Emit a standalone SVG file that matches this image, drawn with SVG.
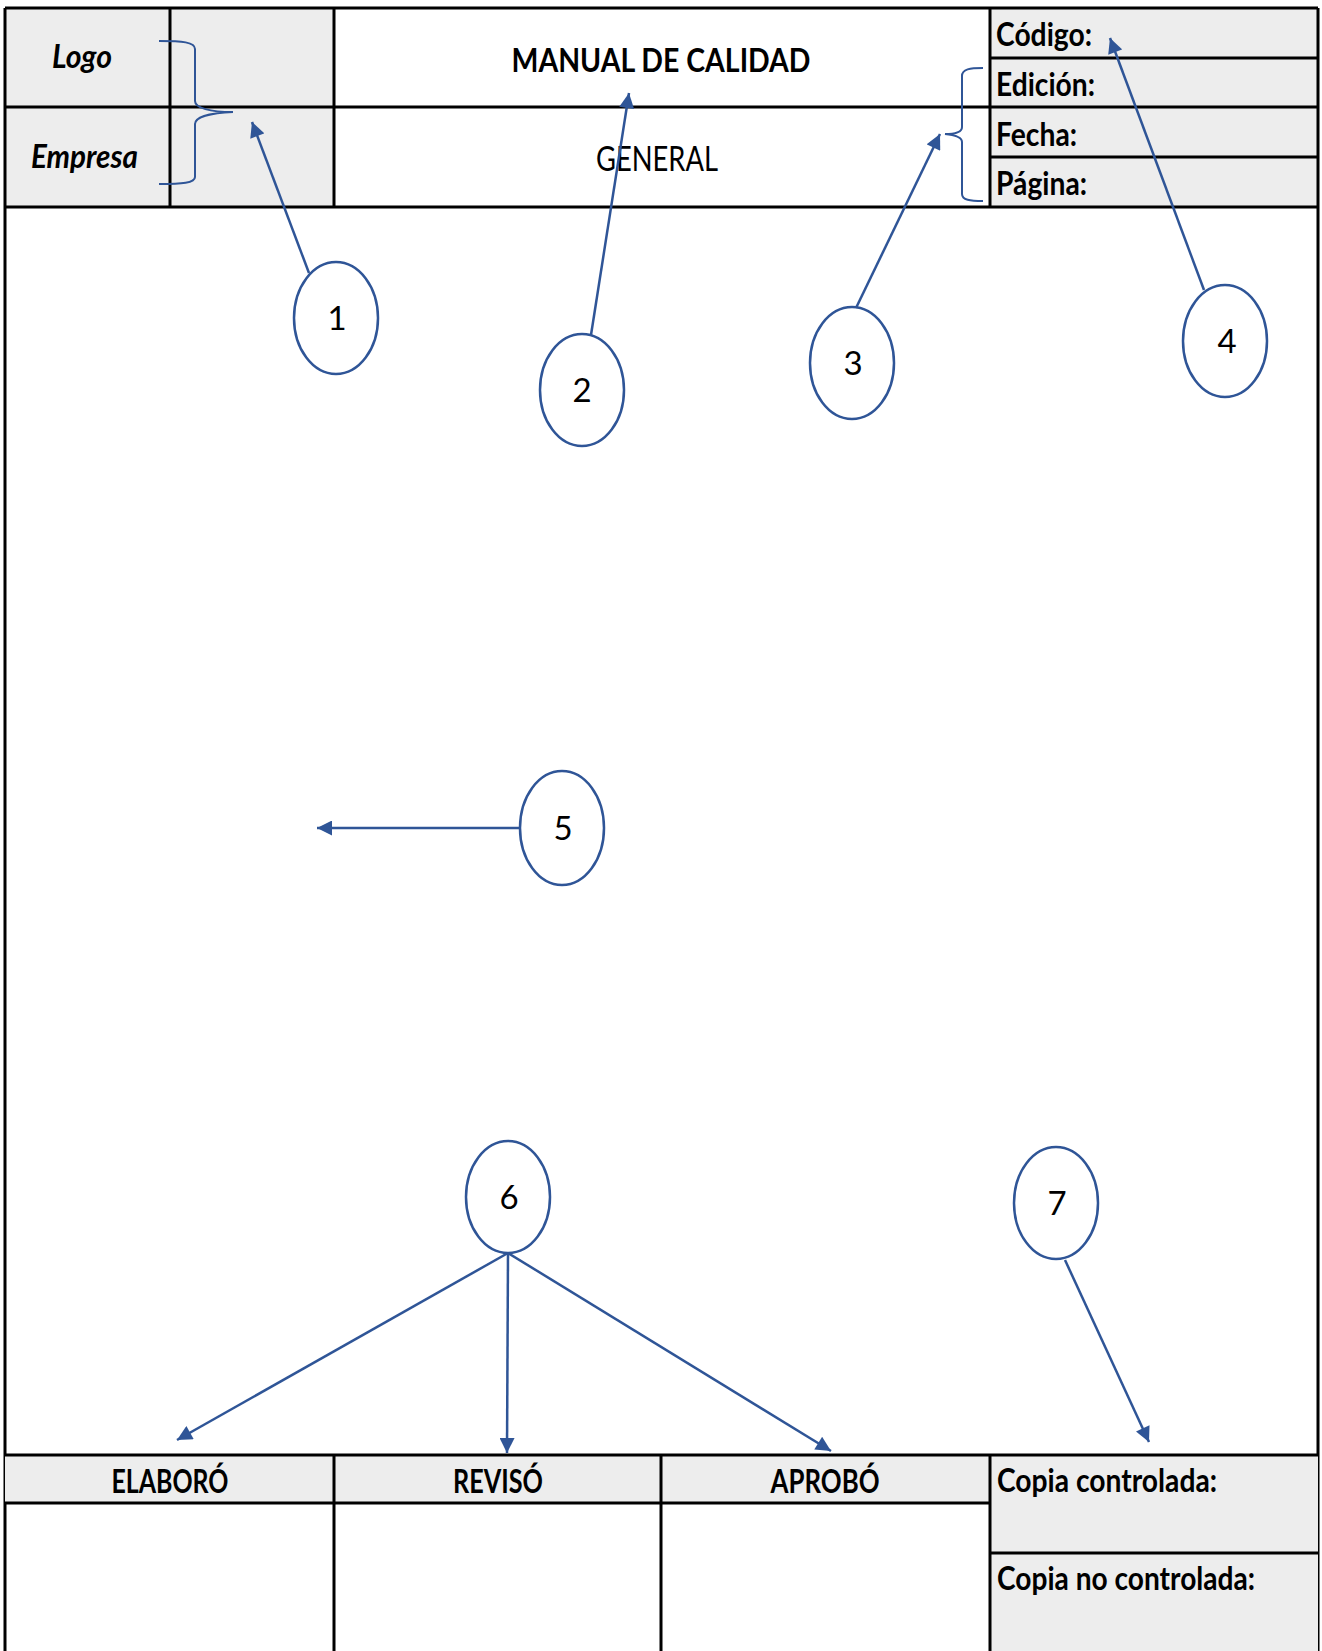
<svg xmlns="http://www.w3.org/2000/svg" width="1322" height="1651" viewBox="0 0 1322 1651">
<style>
.bg{fill:#EDEDED}
.ln{stroke:#000;stroke-width:3;fill:none}
.lb{font-family:Lato,"Open Sans","Liberation Sans",sans-serif;font-weight:bold;font-size:33px;fill:#000}
.it{font-style:italic}
.rg{font-family:Lato,"Open Sans","Liberation Sans",sans-serif;font-size:34px;fill:#000}
.num{font-family:Lato,"Open Sans","Liberation Sans",sans-serif;font-size:33px;fill:#000;text-anchor:middle}
.circ{fill:none;stroke:#2F5597;stroke-width:2.5}
.con{stroke:#2F5597;stroke-width:2.5;fill:none}
.brace{stroke:#2F5597;stroke-width:2;fill:none}
</style>
<defs>
<marker id="ah" viewBox="0 0 10 10" refX="10" refY="5" markerUnits="userSpaceOnUse" markerWidth="17" markerHeight="15" orient="auto">
<path d="M0,0 L10,5 L0,10 Z" fill="#2F5597"/>
</marker>
</defs>
<rect width="1322" height="1651" fill="#fff"/>
<g id="header">
<rect class="bg" x="5" y="8" width="329" height="199"/>
<rect class="bg" x="990" y="8" width="328" height="199"/>
<path class="ln" d="M5,8 H1318 M5,107 H1318 M5,207 H1318 M990,58 H1318 M990,157 H1318 M170,8 V207 M334,8 V207 M990,8 V207"/>
<text class="lb it" x="52" y="68" textLength="60" lengthAdjust="spacingAndGlyphs">Logo</text>
<text class="lb it" x="31" y="168" textLength="107" lengthAdjust="spacingAndGlyphs">Empresa</text>
<text class="lb" x="661" y="72" font-size="36" text-anchor="middle" textLength="299" lengthAdjust="spacingAndGlyphs">MANUAL DE CALIDAD</text>
<text class="rg" x="657" y="171" text-anchor="middle" textLength="122" lengthAdjust="spacingAndGlyphs">GENERAL</text>
<text class="lb" x="996" y="46" textLength="96" lengthAdjust="spacingAndGlyphs">Código:</text>
<text class="lb" x="996" y="96" textLength="99" lengthAdjust="spacingAndGlyphs">Edición:</text>
<text class="lb" x="996" y="146" textLength="81" lengthAdjust="spacingAndGlyphs">Fecha:</text>
<text class="lb" x="996" y="195" textLength="91" lengthAdjust="spacingAndGlyphs">Página:</text>
</g>
<g id="frame">
<path class="ln" d="M5,8 V1651 M1318,8 V1651"/>
</g>
<g id="footer">
<rect class="bg" x="5" y="1455" width="985" height="48"/>
<rect class="bg" x="990" y="1455" width="328" height="196"/>
<path class="ln" d="M5,1455 H1318 M5,1503 H990 M990,1553 H1318 M334,1455 V1651 M661,1455 V1651 M990,1455 V1651"/>
<text class="lb" x="170" y="1493" text-anchor="middle" textLength="117" lengthAdjust="spacingAndGlyphs">ELABORÓ</text>
<text class="lb" x="498" y="1493" text-anchor="middle" textLength="90" lengthAdjust="spacingAndGlyphs">REVISÓ</text>
<text class="lb" x="825" y="1493" text-anchor="middle" textLength="109" lengthAdjust="spacingAndGlyphs">APROBÓ</text>
<text class="lb" x="997" y="1492" textLength="220" lengthAdjust="spacingAndGlyphs">Copia controlada:</text>
<text class="lb" x="997" y="1590" textLength="258" lengthAdjust="spacingAndGlyphs">Copia no controlada:</text>
</g>
<g id="brace1">
<path class="brace" d="M159,41 C182,41 195,42 195,49 L195,101 C195,108 210,112 233,112 C210,113 195,117 195,124 L195,177 C195,183 182,184 159,184"/>
</g>
<g id="brace3">
<path class="brace" d="M983,68 C970,68 962,69 962,76 L962,127 C962,132 955,134 945,134 C955,135 962,137 962,142 L962,194 C962,200 970,201 983,201"/>
</g>
<g id="n1"><ellipse class="circ" cx="336" cy="318" rx="42" ry="56"/><text class="num" x="337" y="330">1</text></g>
<g id="n2"><ellipse class="circ" cx="582" cy="390" rx="42" ry="56"/><text class="num" x="582" y="402">2</text></g>
<g id="n3"><ellipse class="circ" cx="852" cy="363" rx="42" ry="56"/><text class="num" x="853" y="375">3</text></g>
<g id="n4"><ellipse class="circ" cx="1225" cy="341" rx="42" ry="56"/><text class="num" x="1227" y="353">4</text></g>
<g id="n5"><ellipse class="circ" cx="562" cy="828" rx="42" ry="57"/><text class="num" x="563" y="840">5</text></g>
<g id="n6"><ellipse class="circ" cx="508" cy="1197" rx="42" ry="56"/><text class="num" x="509" y="1209">6</text></g>
<g id="n7"><ellipse class="circ" cx="1056" cy="1203" rx="42" ry="56"/><text class="num" x="1057" y="1215">7</text></g>
<g id="connectors">
<line class="con" x1="309" y1="273" x2="252" y2="122" marker-end="url(#ah)"/>
<line class="con" x1="591" y1="335" x2="629" y2="93" marker-end="url(#ah)"/>
<line class="con" x1="856" y1="308" x2="940" y2="134" marker-end="url(#ah)"/>
<line class="con" x1="1204" y1="290" x2="1110" y2="38" marker-end="url(#ah)"/>
<line class="con" x1="520" y1="828" x2="317" y2="828" marker-end="url(#ah)"/>
<line class="con" x1="508" y1="1253" x2="177" y2="1440" marker-end="url(#ah)"/>
<line class="con" x1="508" y1="1253" x2="507" y2="1453" marker-end="url(#ah)"/>
<line class="con" x1="508" y1="1253" x2="831" y2="1451" marker-end="url(#ah)"/>
<line class="con" x1="1065" y1="1260" x2="1149" y2="1442" marker-end="url(#ah)"/>
</g>
</svg>
